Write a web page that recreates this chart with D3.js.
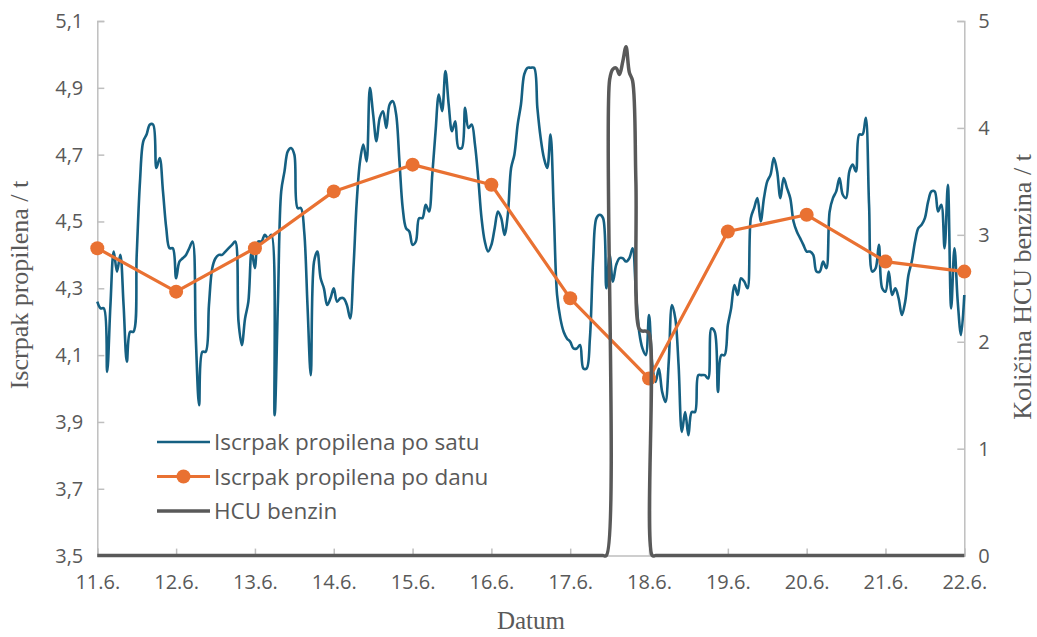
<!DOCTYPE html>
<html>
<head>
<meta charset="utf-8">
<script src="https://cdn.jsdelivr.net/npm/d3@7"></script>
<style>
  html, body { margin: 0; padding: 0; background: #ffffff; }
  svg { display: block; }
</style>
</head>
<body>
<svg id="chart" width="1037" height="637"></svg>
<script>
// ---------- DATA ----------
const dayLabels = ["11.6.", "12.6.", "13.6.", "14.6.", "15.6.", "16.6.", "17.6.", "18.6.", "19.6.", "20.6.", "21.6.", "22.6."];
const leftTicks = [3.5, 3.7, 3.9, 4.1, 4.3, 4.5, 4.7, 4.9, 5.1];
const rightTicks = [0, 1, 2, 3, 4, 5];

// hourly propylene yield (t), one value per hour from 11.6. 00h to 22.6. 00h
const hourly = [
  4.26, 4.24, 4.24, 4.05, 4.25, 4.41, 4.35, 4.40, 4.25, 4.08, 4.17, 4.17,
  4.40, 4.62, 4.74, 4.76, 4.79, 4.79, 4.66, 4.69, 4.59, 4.48, 4.42, 4.42,
  4.33, 4.38, 4.39, 4.40, 4.42, 4.44, 4.15, 3.95, 4.11, 4.11, 4.25, 4.36,
  4.39, 4.40, 4.40, 4.41, 4.42, 4.43, 4.44, 4.20, 4.13, 4.21, 4.26, 4.41,
  4.36, 4.44, 4.44, 4.46, 4.45, 4.46, 3.92, 4.26, 4.59, 4.65, 4.71, 4.72,
  4.70, 4.54, 4.54, 4.47, 4.25, 4.04, 4.38, 4.41, 4.33, 4.30, 4.25, 4.27,
  4.30, 4.26, 4.27, 4.27, 4.25, 4.21, 4.36, 4.56, 4.68, 4.73, 4.68, 4.90,
  4.82, 4.74, 4.81, 4.83, 4.78, 4.85, 4.86, 4.82, 4.68, 4.54, 4.48, 4.47,
  4.43, 4.44, 4.51, 4.51, 4.55, 4.53, 4.64, 4.77, 4.88, 4.83, 4.95, 4.85,
  4.77, 4.80, 4.72, 4.72, 4.84, 4.78, 4.79, 4.73, 4.63, 4.51, 4.44, 4.41,
  4.43, 4.48, 4.53, 4.51, 4.46, 4.52, 4.66, 4.70, 4.79, 4.85, 4.94, 4.96,
  4.96, 4.96, 4.84, 4.75, 4.69, 4.66, 4.76, 4.53, 4.28, 4.21, 4.17, 4.15,
  4.14, 4.12, 4.12, 4.13, 4.06, 4.06, 4.15, 4.39, 4.51, 4.52, 4.51, 4.30,
  4.40, 4.32, 4.37, 4.39, 4.39, 4.38, 4.39, 4.42, 4.29, 4.17, 4.12, 4.10,
  4.22, 4.07, 4.02, 4.06, 3.99, 3.96, 4.08, 4.25, 4.21, 4.07, 3.87, 3.93,
  3.86, 3.93, 3.93, 4.04, 4.04, 4.04, 4.03, 4.18, 4.17, 3.99, 4.10, 4.10,
  4.19, 4.24, 4.31, 4.28, 4.33, 4.32, 4.30, 4.51, 4.54, 4.57, 4.50, 4.57,
  4.62, 4.64, 4.69, 4.65, 4.57, 4.63, 4.60, 4.57, 4.50, 4.47, 4.45, 4.43,
  4.41, 4.41, 4.40, 4.35, 4.35, 4.38, 4.36, 4.53, 4.57, 4.59, 4.63, 4.58,
  4.57, 4.65, 4.67, 4.65, 4.76, 4.76, 4.81, 4.55, 4.35, 4.36, 4.43, 4.30,
  4.29, 4.35, 4.28, 4.30, 4.27, 4.22, 4.26, 4.34, 4.38, 4.44, 4.48, 4.49,
  4.51, 4.56, 4.59, 4.59, 4.53, 4.55, 4.42, 4.61, 4.24, 4.42, 4.26, 4.16,
  4.28
];

// daily propylene yield (t), one value per day label
const daily = [4.42, 4.29, 4.42, 4.59, 4.67, 4.61, 4.27, 4.03, 4.47, 4.52, 4.38, 4.35];

// HCU benzin (t), hourly
const hcu = [
  0,0,0,0,0,0,0,0,0,0,0,0,0,0,0,0,0,0,0,0,0,0,0,0,
  0,0,0,0,0,0,0,0,0,0,0,0,0,0,0,0,0,0,0,0,0,0,0,0,
  0,0,0,0,0,0,0,0,0,0,0,0,0,0,0,0,0,0,0,0,0,0,0,0,
  0,0,0,0,0,0,0,0,0,0,0,0,0,0,0,0,0,0,0,0,0,0,0,0,
  0,0,0,0,0,0,0,0,0,0,0,0,0,0,0,0,0,0,0,0,0,0,0,0,
  0,0,0,0,0,0,0,0,0,0,0,0,0,0,0,0,0,0,0,0,0,0,0,0,
  0,0,0,0,0,0,0,0,0,0,0,0, 4.45, 4.55, 4.56, 4.50, 4.62, 4.76, 4.52, 4.44, 3.50, 2.12, 2.10, 2.10,
  2.08,0,0,0,0,0,0,0,0,0,0,0,0,0,0,0,0,0,0,0,0,0,0,0,
  0,0,0,0,0,0,0,0,0,0,0,0,0,0,0,0,0,0,0,0,0,0,0,0,
  0,0,0,0,0,0,0,0,0,0,0,0,0,0,0,0,0,0,0,0,0,0,0,0,
  0,0,0,0,0,0,0,0,0,0,0,0,0,0,0,0,0,0,0,0,0,0,0,0,
  0
];

const seriesNames = ["Iscrpak propilena po satu", "Iscrpak propilena po danu", "HCU benzin"];
const colors = { hourly: "#156082", daily: "#E97132", hcu: "#595959", axis: "#bfbfbf", text: "#595959" };

// ---------- LAYOUT ----------
const plot = { left: 97.3, right: 964.3, top: 21, bottom: 555.6 };
const svg = d3.select("#chart");
const font = "'Open Sans', 'Noto Sans', sans-serif";
const serif = "'Liberation Serif', 'DejaVu Serif', serif";

const hoursPerDay = 24;
const x = d3.scaleLinear().domain([0, (dayLabels.length - 1) * hoursPerDay]).range([plot.left, plot.right]);
const yL = d3.scaleLinear().domain([3.5, 5.1]).range([plot.bottom, plot.top]);
const yR = d3.scaleLinear().domain([0, 5]).range([plot.bottom, plot.top]);

// ---------- AXES ----------
const fmt = d3.format(".1f");
const gLeft = svg.append("g").attr("transform", `translate(${plot.left},0)`)
  .call(d3.axisLeft(yL).tickValues(leftTicks).tickSize(-7).tickPadding(14)
        .tickFormat(d => fmt(d).replace(".", ",")));
const gRight = svg.append("g").attr("transform", `translate(${plot.right},0)`)
  .call(d3.axisRight(yR).tickValues(rightTicks).tickSize(-7).tickPadding(14).tickFormat(d3.format("d")));
const gBottom = svg.append("g").attr("transform", `translate(0,${plot.bottom})`)
  .call(d3.axisBottom(x).tickValues(dayLabels.map((d, i) => i * hoursPerDay)).tickSize(-7).tickPadding(19)
        .tickFormat((d, i) => dayLabels[i]));

[gLeft, gRight, gBottom].forEach(g => {
  g.select(".domain").attr("stroke", colors.axis).attr("stroke-width", 1.5);
  g.selectAll(".tick line").attr("stroke", colors.axis).attr("stroke-width", 1.5);
  g.selectAll(".tick text").attr("fill", colors.text).style("font-family", font).style("font-size", "20px");
});

// axis titles
svg.append("text").attr("x", 531).attr("y", 629).attr("text-anchor", "middle")
  .style("font-family", serif).style("font-size", "25px").attr("fill", colors.text).text("Datum");
svg.append("text").attr("transform", "translate(28,285) rotate(-90)").attr("text-anchor", "middle")
  .style("font-family", serif).style("font-size", "26px").attr("fill", colors.text).text("Iscrpak propilena / t");
svg.append("text").attr("transform", "translate(1031,287) rotate(-90)").attr("text-anchor", "middle")
  .style("font-family", serif).style("font-size", "26px").attr("fill", colors.text).text("Količina HCU benzina / t");

// ---------- SERIES ----------
const smooth = d3.curveCatmullRom.alpha(0.5);

svg.append("path").datum(hourly)
  .attr("fill", "none").attr("stroke", colors.hourly).attr("stroke-width", 2.6).attr("stroke-linejoin", "round")
  .attr("d", d3.line().x((d, i) => x(i)).y(d => yL(d)).curve(smooth));

svg.append("path").datum(daily)
  .attr("fill", "none").attr("stroke", colors.daily).attr("stroke-width", 3.2).attr("stroke-linejoin", "round")
  .attr("d", d3.line().x((d, i) => x(i * hoursPerDay)).y(d => yL(d)));
svg.append("g").selectAll("circle").data(daily).join("circle")
  .attr("cx", (d, i) => x(i * hoursPerDay)).attr("cy", d => yL(d)).attr("r", 7)
  .attr("fill", colors.daily);

svg.append("path").datum(hcu)
  .attr("fill", "none").attr("stroke", colors.hcu).attr("stroke-width", 3.5).attr("stroke-linejoin", "round")
  .attr("d", d3.line().x((d, i) => x(i)).y(d => yR(d)).curve(smooth));

// ---------- LEGEND ----------
const legend = svg.append("g");
const legendItems = [
  { name: seriesNames[0], color: colors.hourly, w: 2.6, marker: false },
  { name: seriesNames[1], color: colors.daily, w: 3.2, marker: true },
  { name: seriesNames[2], color: colors.hcu, w: 3.5, marker: false }
];
legendItems.forEach((it, i) => {
  const cy = 442 + i * 34.5;
  legend.append("line").attr("x1", 157).attr("x2", 210).attr("y1", cy).attr("y2", cy)
    .attr("stroke", it.color).attr("stroke-width", it.w);
  if (it.marker) legend.append("circle").attr("cx", 183.5).attr("cy", cy).attr("r", 7).attr("fill", it.color);
  legend.append("text").attr("x", 214).attr("y", cy).attr("dy", "0.36em")
    .style("font-family", font).style("font-size", "22.5px").attr("fill", colors.text).text(it.name);
});
</script>
</body>
</html>
